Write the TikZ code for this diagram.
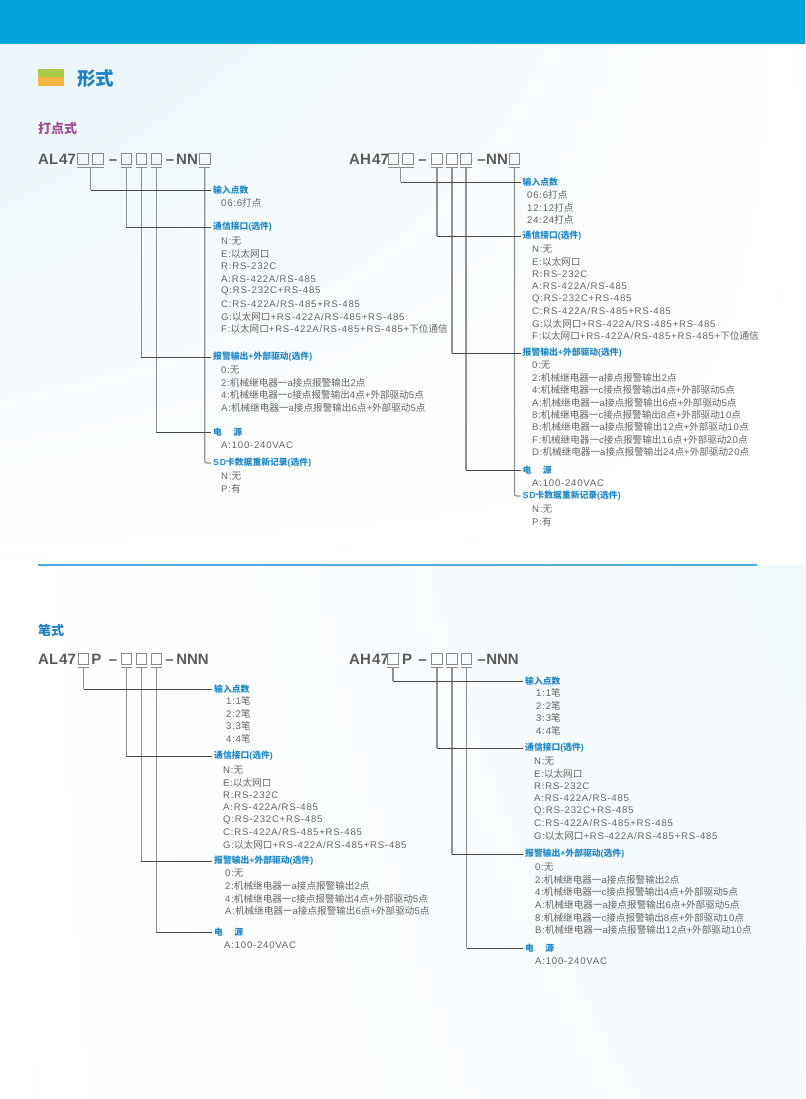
\documentclass[tikz,border=0pt]{standalone}
\usepackage{fontspec}
\setmainfont{Liberation Sans}[LetterSpace=8]
\newfontfamily\latfont{Liberation Sans}[LetterSpace=8]
\newfontfamily\codefont{Liberation Sans}
\newfontfamily\cjkfont{Noto Sans CJK SC}
% switch to the CJK face for ideographs, back to Latin after them
\newXeTeXintercharclass\cjkclass
\count255="4E00
\loop
  \XeTeXcharclass\count255=\cjkclass
  \ifnum\count255<"9FFF \advance\count255 by 1 \repeat
\XeTeXinterchartokenstate=1
\XeTeXinterchartoks 0 \cjkclass = {\cjkfont}
\XeTeXinterchartoks 4095 \cjkclass = {\cjkfont}
\XeTeXinterchartoks \cjkclass 0 = {\latfont}
\usetikzlibrary{calc,shadings}
\definecolor{barblue}{HTML}{04A3DA}
\definecolor{bgblue}{HTML}{E8F4FA}
\definecolor{headblue}{HTML}{1B80C3}
\definecolor{labelblue}{HTML}{1E88C8}
\definecolor{plum}{HTML}{9C4F96}
\definecolor{codegray}{HTML}{5A5A5A}
\definecolor{itemgray}{HTML}{646464}
\definecolor{boxgray}{HTML}{8A8A8A}
\definecolor{vgray}{HTML}{909090}
\definecolor{hgray}{HTML}{4A4A4A}
\definecolor{sepblue}{HTML}{4BA9DB}
\definecolor{icongreen}{HTML}{A8CB4B}
\definecolor{iconorange}{HTML}{F5B445}

\tikzset{
  codebox/.style={draw=boxgray, line width=0.8pt, minimum width=10.5pt, minimum height=11pt, inner sep=0pt},
  codetext/.style={anchor=base west, inner sep=0pt, text=codegray, font=\codefont\bfseries\fontsize{15}{15}\selectfont},
  tick/.style={draw=boxgray, line width=0.9pt},
  vline/.style={draw=vgray, line width=1.2pt},
  hline/.style={draw=hgray, line width=0.8pt},
  section/.style={anchor=west, inner sep=0pt, font=\bfseries\fontsize{13}{14}\selectfont},
  head/.style={anchor=west, inner sep=2pt, text=labelblue, font=\bfseries\fontsize{8.8}{10}\selectfont},
  item/.style={anchor=west, inner sep=0pt, text=itemgray, font=\fontsize{9.6}{11}\selectfont}
}

\begin{document}
\begin{tikzpicture}[x=1pt, y=-1pt]
  \useasboundingbox (0,0) rectangle (805,1099);

  % Background
  \shade[upper left=bgblue, upper right=white, lower left=white, lower right=white] (0,44) rectangle (805,565);
  \shade[upper left=white, upper right=bgblue!60!white, lower left=white, lower right=bgblue!40!white] (0,565) rectangle (805,1099);
  \fill[barblue] (0,0) rectangle (805,44);

  % Heading
  \fill[icongreen] (38,69) rectangle (64,77.5);
  \fill[iconorange] (38,77.5) rectangle (64,86);
  \node[anchor=west, inner sep=0pt, text=headblue, font=\bfseries\fontsize{18.5}{20}\selectfont] (form) at (77,79) {形式};

  \node[section, text=plum] (dot) at (38,129) {打点式};
  \node[section, text=headblue] (pen) at (38,630) {笔式};

  % Separator
  \draw[sepblue, line width=1.2pt] (38,565) -- (757,565);

  % ---------- AL47, dot type ----------
  \node[codetext] (dl-a) at (38,165) {AL};
  \node[codetext] (dl-b) at (59,165) {47};
  \foreach \n/\x in {1/83,2/98,3/126.3,4/141.3,5/156.2,6/204.7}
    \node[codebox] (dlb\n) at (\x,159) {};
  \node[codetext, anchor=base] at (113,165) {–};
  \node[codetext, anchor=base] at (170,165) {–};
  \node[codetext, anchor=base] at (187,165) {NN};

  \draw[tick] ($(dlb1.south west)+(0,3)$) -- coordinate (dlp) ($(dlb2.south east)+(0,3)$);
  \foreach \n in {3,...,6}
    \draw[tick] ($(dlb\n.south west)+(0,3)$) -- coordinate (dlt\n) ($(dlb\n.south east)+(0,3)$);

  \node[head] (dl-in) at (211,190) {输入点数};
  \node[head] (dl-com) at (211,227) {通信接口(选件)};
  \node[head] (dl-alm) at (211,357) {报警输出+外部驱动(选件)};
  \node[head] (dl-pwr) at (211,432) {电\hspace{1.3em}源};
  \node[head] (dl-sd) at (211,463) {SD卡数据重新记录(选件)};

  \node[item] at (221,203) {06:6打点};
  \foreach \t [count=\i] in {N:无,E:以太网口,R:RS-232C,A:RS-422A/RS-485,Q:RS-232C+RS-485,C:RS-422A/RS-485+RS-485,G:以太网口+RS-422A/RS-485+RS-485,F:以太网口+RS-422A/RS-485+RS-485+下位通信}
    \node[item] at (221,228.4+12.6*\i) {\t};
  \foreach \t [count=\i] in {0:无,2:机械继电器一a接点报警输出2点,4:机械继电器一c接点报警输出4点+外部驱动5点,A:机械继电器一a接点报警输出6点+外部驱动5点}
    \node[item] at (221,357.4+12.6*\i) {\t};
  \node[item] at (221,445) {A:100-240VAC};
  \foreach \t [count=\i] in {N:无,P:有}
    \node[item] at (221,463.4+12.6*\i) {\t};

  \foreach \c/\l in {dlp/dl-in, dlt3/dl-com, dlt4/dl-alm, dlt5/dl-pwr}
    \draw[vline] (\c) -- (\c |- \l.west);
  \draw[vline, rounded corners=2pt] (dlt6) |- (dl-sd.west);
  \foreach \c/\l in {dlp/dl-in, dlt3/dl-com, dlt4/dl-alm, dlt5/dl-pwr}
    \draw[hline] (\c |- \l.west) -- (\l.west);

  % ---------- AH47, dot type ----------
  \node[codetext] (dh-a) at (349,164.5) {AH};
  \node[codetext] (dh-b) at (372,164.5) {47};
  \foreach \n/\x in {1/393.5,2/408,3/437,4/452,5/466,6/514.5}
    \node[codebox] (dhb\n) at (\x,158.5) {};
  \node[codetext, anchor=base] at (422.5,164.5) {–};
  \node[codetext, anchor=base] at (481.5,164.5) {–};
  \node[codetext, anchor=base] at (497,164.5) {NN};

  \draw[tick] ($(dhb1.south west)+(0,3)$) -- coordinate (dhp) ($(dhb2.south east)+(0,3)$);
  \foreach \n in {3,...,6}
    \draw[tick] ($(dhb\n.south west)+(0,3)$) -- coordinate (dht\n) ($(dhb\n.south east)+(0,3)$);

  \node[head] (dh-in) at (520.5,182) {输入点数};
  \node[head] (dh-com) at (520.5,236) {通信接口(选件)};
  \node[head] (dh-alm) at (520.5,353) {报警输出+外部驱动(选件)};
  \node[head] (dh-pwr) at (520.5,470) {电\hspace{1.3em}源};
  \node[head] (dh-sd) at (520.5,496) {SD卡数据重新记录(选件)};

  \foreach \t [count=\i] in {06:6打点,12:12打点,24:24打点}
    \node[item] at (527,182.5+12.5*\i) {\t};
  \foreach \t [count=\i] in {N:无,E:以太网口,R:RS-232C,A:RS-422A/RS-485,Q:RS-232C+RS-485,C:RS-422A/RS-485+RS-485,G:以太网口+RS-422A/RS-485+RS-485,F:以太网口+RS-422A/RS-485+RS-485+下位通信}
    \node[item] at (532,236.55+12.45*\i) {\t};
  \foreach \t [count=\i] in {0:无,2:机械继电器一a接点报警输出2点,4:机械继电器一c接点报警输出4点+外部驱动5点,A:机械继电器一a接点报警输出6点+外部驱动5点,8:机械继电器一c接点报警输出8点+外部驱动10点,B:机械继电器一a接点报警输出12点+外部驱动10点,F:机械继电器一c接点报警输出16点+外部驱动20点,D:机械继电器一a接点报警输出24点+外部驱动20点}
    \node[item] at (532,352.55+12.45*\i) {\t};
  \node[item] at (532,483) {A:100-240VAC};
  \foreach \t [count=\i] in {N:无,P:有}
    \node[item] at (532,496.5+12.5*\i) {\t};

  \foreach \c/\l in {dhp/dh-in, dht3/dh-com, dht4/dh-alm, dht5/dh-pwr}
    \draw[vline] (\c) -- (\c |- \l.west);
  \draw[vline, rounded corners=2pt] (dht6) |- (dh-sd.west);
  \foreach \c/\l in {dhp/dh-in, dht3/dh-com, dht4/dh-alm, dht5/dh-pwr}
    \draw[hline] (\c |- \l.west) -- (\l.west);

  % ---------- AL47, pen type ----------
  \node[codetext] (bl-a) at (38,664.5) {AL};
  \node[codetext] (bl-b) at (59,664.5) {47};
  \foreach \n/\x in {1/83.5,2/126.3,3/141.3,4/156.2}
    \node[codebox] (blb\n) at (\x,659) {};
  \node[codetext, anchor=base] at (96.3,664.5) {P};
  \node[codetext, anchor=base] at (113,664.5) {–};
  \node[codetext, anchor=base] at (169.5,664.5) {–};
  \node[codetext, anchor=base] at (192.5,664.5) {NNN};

  \foreach \n in {1,...,4}
    \draw[tick] ($(blb\n.south west)+(0,3)$) -- coordinate (blt\n) ($(blb\n.south east)+(0,3)$);

  \node[head] (bl-in) at (212,689) {输入点数};
  \node[head] (bl-com) at (212,756) {通信接口(选件)};
  \node[head] (bl-alm) at (212,861) {报警输出+外部驱动(选件)};
  \node[head] (bl-pwr) at (212,932) {电\hspace{1.3em}源};

  \foreach \t [count=\i] in {1:1笔,2:2笔,3:3笔,4:4笔}
    \node[item] at (226,688.4+12.6*\i) {\t};
  \foreach \t [count=\i] in {N:无,E:以太网口,R:RS-232C,A:RS-422A/RS-485,Q:RS-232C+RS-485,C:RS-422A/RS-485+RS-485,G:以太网口+RS-422A/RS-485+RS-485}
    \node[item] at (223,757.5+12.5*\i) {\t};
  \foreach \t [count=\i] in {0:无,2:机械继电器一a接点报警输出2点,4:机械继电器一c接点报警输出4点+外部驱动5点,A:机械继电器一a接点报警输出6点+外部驱动5点}
    \node[item] at (225,861+12.5*\i) {\t};
  \node[item] at (224,945) {A:100-240VAC};

  \foreach \c/\l in {blt1/bl-in, blt2/bl-com, blt3/bl-alm, blt4/bl-pwr}
    \draw[vline] (\c) -- (\c |- \l.west);
  \foreach \c/\l in {blt1/bl-in, blt2/bl-com, blt3/bl-alm, blt4/bl-pwr}
    \draw[hline] (\c |- \l.west) -- (\l.west);

  % ---------- AH47, pen type ----------
  \node[codetext] (bh-a) at (349,664) {AH};
  \node[codetext] (bh-b) at (372,664) {47};
  \foreach \n/\x in {1/393,2/437,3/452,4/466.5}
    \node[codebox] (bhb\n) at (\x,658.5) {};
  \node[codetext, anchor=base] at (407,664) {P};
  \node[codetext, anchor=base] at (422.5,664) {–};
  \node[codetext, anchor=base] at (481.5,664) {–};
  \node[codetext, anchor=base] at (502.5,664) {NNN};

  \foreach \n in {1,...,4}
    \draw[tick] ($(bhb\n.south west)+(0,3)$) -- coordinate (bht\n) ($(bhb\n.south east)+(0,3)$);

  \node[head] (bh-in) at (523,681) {输入点数};
  \node[head] (bh-com) at (523,748) {通信接口(选件)};
  \node[head] (bh-alm) at (523,854) {报警输出+外部驱动(选件)};
  \node[head] (bh-pwr) at (523,948) {电\hspace{1.3em}源};

  \foreach \t [count=\i] in {1:1笔,2:2笔,3:3笔,4:4笔}
    \node[item] at (536,680.4+12.6*\i) {\t};
  \foreach \t [count=\i] in {N:无,E:以太网口,R:RS-232C,A:RS-422A/RS-485,Q:RS-232C+RS-485,C:RS-422A/RS-485+RS-485,G:以太网口+RS-422A/RS-485+RS-485}
    \node[item] at (534,748.5+12.5*\i) {\t};
  \foreach \t [count=\i] in {0:无,2:机械继电器一a接点报警输出2点,4:机械继电器一c接点报警输出4点+外部驱动5点,A:机械继电器一a接点报警输出6点+外部驱动5点,8:机械继电器一c接点报警输出8点+外部驱动10点,B:机械继电器一a接点报警输出12点+外部驱动10点}
    \node[item] at (535,854.4+12.6*\i) {\t};
  \node[item] at (535,961) {A:100-240VAC};

  \foreach \c/\l in {bht1/bh-in, bht2/bh-com, bht3/bh-alm, bht4/bh-pwr}
    \draw[vline] (\c) -- (\c |- \l.west);
  \foreach \c/\l in {bht1/bh-in, bht2/bh-com, bht3/bh-alm, bht4/bh-pwr}
    \draw[hline] (\c |- \l.west) -- (\l.west);

\end{tikzpicture}
\end{document}
